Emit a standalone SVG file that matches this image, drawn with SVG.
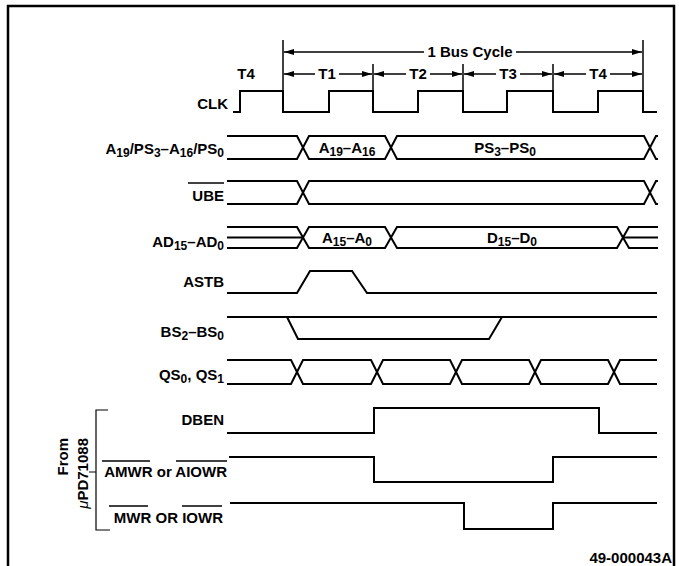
<svg xmlns="http://www.w3.org/2000/svg" width="679" height="566" viewBox="0 0 679 566">
<style>
  .w { fill: none; stroke: #000; stroke-width: 2; stroke-linejoin: miter; }
  .t { stroke: #000; stroke-width: 1.5; fill: none; }
  .lbl { font-family: "Liberation Sans", Arial, sans-serif; font-weight: bold; font-size: 15px; fill: #000; }
  .sub { font-size: 12px; }
  .ov { stroke: #000; stroke-width: 1.5; }
</style>
<defs>
  <marker id="ah" viewBox="0 0 10 6" refX="10" refY="3" markerWidth="10" markerHeight="6" markerUnits="userSpaceOnUse" orient="auto">
    <path d="M0,0 L10,3 L0,6 z" fill="#000"/>
  </marker>
</defs>
<rect width="679" height="566" fill="#fff"/>
<!-- border -->
<path d="M8,570 V6 H674 V570" fill="none" stroke="#000" stroke-width="2.5"/>

<g id="timing-markers">
  <line class="t" x1="283" y1="40" x2="283" y2="92"/>
  <line class="t" x1="643" y1="40" x2="643" y2="92"/>
  <line class="t" x1="373" y1="64" x2="373" y2="92"/>
  <line class="t" x1="463" y1="64" x2="463" y2="92"/>
  <line class="t" x1="553" y1="64" x2="553" y2="92"/>
  <line class="t" x1="424" y1="52" x2="284" y2="52" marker-end="url(#ah)"/>
  <line class="t" x1="516" y1="52" x2="642" y2="52" marker-end="url(#ah)"/>
  <text class="lbl" x="470" y="57" text-anchor="middle">1 Bus Cycle</text>
  <line class="t" x1="315" y1="74" x2="284" y2="74" marker-end="url(#ah)"/>
  <line class="t" x1="339" y1="74" x2="372" y2="74" marker-end="url(#ah)"/>
  <text class="lbl" x="327" y="79" text-anchor="middle">T1</text>
  <line class="t" x1="406" y1="74" x2="374" y2="74" marker-end="url(#ah)"/>
  <line class="t" x1="430" y1="74" x2="462" y2="74" marker-end="url(#ah)"/>
  <text class="lbl" x="418" y="79" text-anchor="middle">T2</text>
  <line class="t" x1="496" y1="74" x2="464" y2="74" marker-end="url(#ah)"/>
  <line class="t" x1="520" y1="74" x2="552" y2="74" marker-end="url(#ah)"/>
  <text class="lbl" x="508" y="79" text-anchor="middle">T3</text>
  <line class="t" x1="586" y1="74" x2="554" y2="74" marker-end="url(#ah)"/>
  <line class="t" x1="610" y1="74" x2="642" y2="74" marker-end="url(#ah)"/>
  <text class="lbl" x="598" y="79" text-anchor="middle">T4</text>
  <text class="lbl" x="246" y="79" text-anchor="middle">T4</text>
</g>

<g id="clk">
  <text class="lbl" x="228" y="109" text-anchor="end">CLK</text>
  <path class="w" d="M233,112 H240 V91 H283 V112 H329 V91 H373 V112 H418 V91 H463 V112 H507 V91 H553 V112 H598 V91 H643 V112 H657"/>
</g>

<g id="a19-ps">
  <text class="lbl" x="224" y="154" text-anchor="end">A<tspan class="sub" dy="3">19</tspan><tspan dy="-3">/PS</tspan><tspan class="sub" dy="3">3</tspan><tspan dy="-3">–A</tspan><tspan class="sub" dy="3">16</tspan><tspan dy="-3">/PS</tspan><tspan class="sub" dy="3">0</tspan></text>
  <path class="w" d="M227,136 H297 L309,159 H385 L397,136 H644 L656,159 H658"/>
  <path class="w" d="M227,159 H297 L309,136 H385 L397,159 H644 L656,136 H658"/>
  <text class="lbl" x="347" y="153" text-anchor="middle">A<tspan class="sub" dy="3">19</tspan><tspan dy="-3">–A</tspan><tspan class="sub" dy="3">16</tspan></text>
  <text class="lbl" x="505" y="153" text-anchor="middle">PS<tspan class="sub" dy="3">3</tspan><tspan dy="-3">–PS</tspan><tspan class="sub" dy="3">0</tspan></text>
</g>

<g id="ube">
  <text class="lbl" x="224" y="201" text-anchor="end">UBE</text>
  <line class="ov" x1="188" y1="183" x2="224" y2="183"/>
  <path class="w" d="M227,181 H297 L309,204 H644 L656,181 H658"/>
  <path class="w" d="M227,204 H297 L309,181 H644 L656,204 H658"/>
</g>

<g id="ad">
  <text class="lbl" x="224" y="247" text-anchor="end">AD<tspan class="sub" dy="3">15</tspan><tspan dy="-3">–AD</tspan><tspan class="sub" dy="3">0</tspan></text>
  <path class="w" d="M227,227 H297 L309,248 H385 L397,227 H617 L623,237.5 L629,227 H658"/>
  <path class="w" d="M227,248 H297 L309,227 H385 L397,248 H617 L623,237.5 L629,248 H658"/>
  <path class="w" d="M227,237.5 H303 M623,237.5 H658"/>
  <text class="lbl" x="347" y="243" text-anchor="middle">A<tspan class="sub" dy="3">15</tspan><tspan dy="-3">–A</tspan><tspan class="sub" dy="3">0</tspan></text>
  <text class="lbl" x="512" y="243" text-anchor="middle">D<tspan class="sub" dy="3">15</tspan><tspan dy="-3">–D</tspan><tspan class="sub" dy="3">0</tspan></text>
</g>

<g id="astb">
  <text class="lbl" x="224" y="287" text-anchor="end">ASTB</text>
  <path class="w" d="M227,293 H297 L310,271 H352 L367,293 H657"/>
</g>

<g id="bs">
  <text class="lbl" x="224" y="337" text-anchor="end">BS<tspan class="sub" dy="3">2</tspan><tspan dy="-3">–BS</tspan><tspan class="sub" dy="3">0</tspan></text>
  <path class="w" d="M227,317 H657 M287,317 L298,339 H489 L502,317"/>
</g>

<g id="qs">
  <text class="lbl" x="224" y="380" text-anchor="end">QS<tspan class="sub" dy="3">0</tspan><tspan dy="-3">, QS</tspan><tspan class="sub" dy="3">1</tspan></text>
  <path class="w" d="M227,360 H291 L303,384 H371 L383,360 H450 L462,384 H529 L541,360 H608 L620,384 H657"/>
  <path class="w" d="M227,384 H291 L303,360 H371 L383,384 H450 L462,360 H529 L541,384 H608 L620,360 H657"/>
</g>

<g id="from-bracket">
  <path d="M108,410 H96 V530 H110 M89,472 H96" fill="none" stroke="#000" stroke-width="1.2"/>
  <text class="lbl" transform="translate(68,438) rotate(-90)" text-anchor="end">From</text>
  <text class="lbl" transform="translate(88,438) rotate(-90)" text-anchor="end"><tspan font-style="italic" font-weight="normal">μ</tspan>PD71088</text>
</g>

<g id="dben">
  <text class="lbl" x="224" y="425" text-anchor="end">DBEN</text>
  <path class="w" d="M227,433 H374 V408 H599 V433 H657"/>
</g>

<g id="amwr">
  <text class="lbl" x="227" y="477" text-anchor="end">AMWR or AIOWR</text>
  <line class="ov" x1="102" y1="461" x2="150" y2="461"/>
  <line class="ov" x1="176" y1="461" x2="227" y2="461"/>
  <path class="w" d="M229,457 H374 V482 H553 V457 H657"/>
</g>

<g id="mwr">
  <text class="lbl" x="223" y="523" text-anchor="end">MWR OR IOWR</text>
  <line class="ov" x1="109" y1="506" x2="148" y2="506"/>
  <line class="ov" x1="182" y1="506" x2="222" y2="506"/>
  <path class="w" d="M230,503 H464 V529 H553 V503 H657"/>
</g>

<text class="lbl" x="672" y="563" text-anchor="end">49-000043A</text>
</svg>
